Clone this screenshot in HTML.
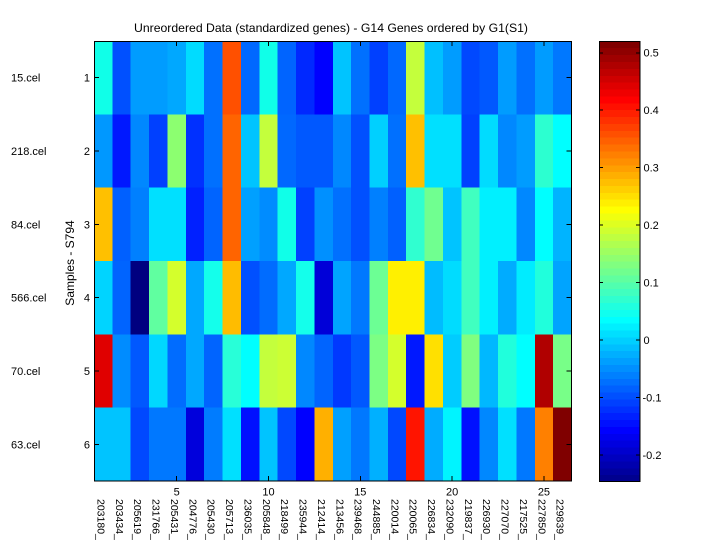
<!DOCTYPE html>
<html><head><meta charset="utf-8"><style>
html,body{margin:0;padding:0;background:#fff;}
svg{display:block;}
text{font-family:"Liberation Sans",Arial,sans-serif;fill:#000;}
</style></head><body>
<svg width="720" height="540" viewBox="0 0 720 540" xmlns="http://www.w3.org/2000/svg">
<rect width="720" height="540" fill="#fff"/>
<svg x="94" y="41" width="477.5" height="440" viewBox="0 0 26 6" preserveAspectRatio="none" shape-rendering="crispEdges">
<g>
<rect x="0" y="0" width="1.02" height="1.01" fill="#10FFE8"/><rect x="1" y="0" width="1.02" height="1.01" fill="#0050FF"/><rect x="2" y="0" width="1.02" height="1.01" fill="#009CFF"/><rect x="3" y="0" width="1.02" height="1.01" fill="#009CFF"/><rect x="4" y="0" width="1.02" height="1.01" fill="#00A8FF"/><rect x="5" y="0" width="1.02" height="1.01" fill="#00DCFF"/><rect x="6" y="0" width="1.02" height="1.01" fill="#0070FF"/><rect x="7" y="0" width="1.02" height="1.01" fill="#FF5000"/><rect x="8" y="0" width="1.02" height="1.01" fill="#0068FF"/><rect x="9" y="0" width="1.02" height="1.01" fill="#10FFE8"/><rect x="10" y="0" width="1.02" height="1.01" fill="#0064FF"/><rect x="11" y="0" width="1.02" height="1.01" fill="#0028FF"/><rect x="12" y="0" width="1.02" height="1.01" fill="#0000FF"/><rect x="13" y="0" width="1.02" height="1.01" fill="#00C4FF"/><rect x="14" y="0" width="1.02" height="1.01" fill="#0070FF"/><rect x="15" y="0" width="1.02" height="1.01" fill="#0040FF"/><rect x="16" y="0" width="1.02" height="1.01" fill="#0068FF"/><rect x="17" y="0" width="1.02" height="1.01" fill="#C4FF3C"/><rect x="18" y="0" width="1.02" height="1.01" fill="#00C0FF"/><rect x="19" y="0" width="1.02" height="1.01" fill="#009CFF"/><rect x="20" y="0" width="1.02" height="1.01" fill="#0048FF"/><rect x="21" y="0" width="1.02" height="1.01" fill="#0058FF"/><rect x="22" y="0" width="1.02" height="1.01" fill="#009CFF"/><rect x="23" y="0" width="1.02" height="1.01" fill="#0070FF"/><rect x="24" y="0" width="1.02" height="1.01" fill="#009CFF"/><rect x="25" y="0" width="1.02" height="1.01" fill="#0078FF"/>
<rect x="0" y="1" width="1.02" height="1.01" fill="#0098FF"/><rect x="1" y="1" width="1.02" height="1.01" fill="#0018FF"/><rect x="2" y="1" width="1.02" height="1.01" fill="#0088FF"/><rect x="3" y="1" width="1.02" height="1.01" fill="#0040FF"/><rect x="4" y="1" width="1.02" height="1.01" fill="#8CFF70"/><rect x="5" y="1" width="1.02" height="1.01" fill="#0030FF"/><rect x="6" y="1" width="1.02" height="1.01" fill="#0070FF"/><rect x="7" y="1" width="1.02" height="1.01" fill="#FF6400"/><rect x="8" y="1" width="1.02" height="1.01" fill="#00C4FF"/><rect x="9" y="1" width="1.02" height="1.01" fill="#C4FF3C"/><rect x="10" y="1" width="1.02" height="1.01" fill="#0068FF"/><rect x="11" y="1" width="1.02" height="1.01" fill="#0058FF"/><rect x="12" y="1" width="1.02" height="1.01" fill="#0058FF"/><rect x="13" y="1" width="1.02" height="1.01" fill="#0088FF"/><rect x="14" y="1" width="1.02" height="1.01" fill="#0050FF"/><rect x="15" y="1" width="1.02" height="1.01" fill="#00D0FF"/><rect x="16" y="1" width="1.02" height="1.01" fill="#0070FF"/><rect x="17" y="1" width="1.02" height="1.01" fill="#FFC000"/><rect x="18" y="1" width="1.02" height="1.01" fill="#00E0FF"/><rect x="19" y="1" width="1.02" height="1.01" fill="#00E0FF"/><rect x="20" y="1" width="1.02" height="1.01" fill="#0040FF"/><rect x="21" y="1" width="1.02" height="1.01" fill="#00DCFF"/><rect x="22" y="1" width="1.02" height="1.01" fill="#0088FF"/><rect x="23" y="1" width="1.02" height="1.01" fill="#009CFF"/><rect x="24" y="1" width="1.02" height="1.01" fill="#2CFFD0"/><rect x="25" y="1" width="1.02" height="1.01" fill="#00FFFF"/>
<rect x="0" y="2" width="1.02" height="1.01" fill="#FFC000"/><rect x="1" y="2" width="1.02" height="1.01" fill="#0060FF"/><rect x="2" y="2" width="1.02" height="1.01" fill="#0080FF"/><rect x="3" y="2" width="1.02" height="1.01" fill="#00E0FF"/><rect x="4" y="2" width="1.02" height="1.01" fill="#00E0FF"/><rect x="5" y="2" width="1.02" height="1.01" fill="#0020FF"/><rect x="6" y="2" width="1.02" height="1.01" fill="#0064FF"/><rect x="7" y="2" width="1.02" height="1.01" fill="#FF6400"/><rect x="8" y="2" width="1.02" height="1.01" fill="#00A0FF"/><rect x="9" y="2" width="1.02" height="1.01" fill="#008CFF"/><rect x="10" y="2" width="1.02" height="1.01" fill="#10FFE8"/><rect x="11" y="2" width="1.02" height="1.01" fill="#0040FF"/><rect x="12" y="2" width="1.02" height="1.01" fill="#0090FF"/><rect x="13" y="2" width="1.02" height="1.01" fill="#0070FF"/><rect x="14" y="2" width="1.02" height="1.01" fill="#0050FF"/><rect x="15" y="2" width="1.02" height="1.01" fill="#0080FF"/><rect x="16" y="2" width="1.02" height="1.01" fill="#0060FF"/><rect x="17" y="2" width="1.02" height="1.01" fill="#30FFD0"/><rect x="18" y="2" width="1.02" height="1.01" fill="#70FF90"/><rect x="19" y="2" width="1.02" height="1.01" fill="#00C4FF"/><rect x="20" y="2" width="1.02" height="1.01" fill="#40FFC0"/><rect x="21" y="2" width="1.02" height="1.01" fill="#00F0FF"/><rect x="22" y="2" width="1.02" height="1.01" fill="#00F0FF"/><rect x="23" y="2" width="1.02" height="1.01" fill="#0088FF"/><rect x="24" y="2" width="1.02" height="1.01" fill="#00FFFF"/><rect x="25" y="2" width="1.02" height="1.01" fill="#00B4FF"/>
<rect x="0" y="3" width="1.02" height="1.01" fill="#00D4FF"/><rect x="1" y="3" width="1.02" height="1.01" fill="#0064FF"/><rect x="2" y="3" width="1.02" height="1.01" fill="#000080"/><rect x="3" y="3" width="1.02" height="1.01" fill="#60FFA0"/><rect x="4" y="3" width="1.02" height="1.01" fill="#D4FF2C"/><rect x="5" y="3" width="1.02" height="1.01" fill="#00A8FF"/><rect x="6" y="3" width="1.02" height="1.01" fill="#14FFEB"/><rect x="7" y="3" width="1.02" height="1.01" fill="#FFBC00"/><rect x="8" y="3" width="1.02" height="1.01" fill="#0050FF"/><rect x="9" y="3" width="1.02" height="1.01" fill="#006CFF"/><rect x="10" y="3" width="1.02" height="1.01" fill="#00A8FF"/><rect x="11" y="3" width="1.02" height="1.01" fill="#14FFEB"/><rect x="12" y="3" width="1.02" height="1.01" fill="#0000D8"/><rect x="13" y="3" width="1.02" height="1.01" fill="#00A4FF"/><rect x="14" y="3" width="1.02" height="1.01" fill="#0078FF"/><rect x="15" y="3" width="1.02" height="1.01" fill="#6CFF94"/><rect x="16" y="3" width="1.02" height="1.01" fill="#FFF000"/><rect x="17" y="3" width="1.02" height="1.01" fill="#FFF000"/><rect x="18" y="3" width="1.02" height="1.01" fill="#00BCFF"/><rect x="19" y="3" width="1.02" height="1.01" fill="#00DCFF"/><rect x="20" y="3" width="1.02" height="1.01" fill="#40FFC0"/><rect x="21" y="3" width="1.02" height="1.01" fill="#00F0FF"/><rect x="22" y="3" width="1.02" height="1.01" fill="#00ACFF"/><rect x="23" y="3" width="1.02" height="1.01" fill="#00ECFF"/><rect x="24" y="3" width="1.02" height="1.01" fill="#20FFDC"/><rect x="25" y="3" width="1.02" height="1.01" fill="#00A4FF"/>
<rect x="0" y="4" width="1.02" height="1.01" fill="#E00000"/><rect x="1" y="4" width="1.02" height="1.01" fill="#008CFF"/><rect x="2" y="4" width="1.02" height="1.01" fill="#0058FF"/><rect x="3" y="4" width="1.02" height="1.01" fill="#00D8FF"/><rect x="4" y="4" width="1.02" height="1.01" fill="#006CFF"/><rect x="5" y="4" width="1.02" height="1.01" fill="#00A8FF"/><rect x="6" y="4" width="1.02" height="1.01" fill="#0064FF"/><rect x="7" y="4" width="1.02" height="1.01" fill="#28FFD8"/><rect x="8" y="4" width="1.02" height="1.01" fill="#00FFFF"/><rect x="9" y="4" width="1.02" height="1.01" fill="#C4FF3C"/><rect x="10" y="4" width="1.02" height="1.01" fill="#CCFF34"/><rect x="11" y="4" width="1.02" height="1.01" fill="#0088FF"/><rect x="12" y="4" width="1.02" height="1.01" fill="#0064FF"/><rect x="13" y="4" width="1.02" height="1.01" fill="#0038FF"/><rect x="14" y="4" width="1.02" height="1.01" fill="#0058FF"/><rect x="15" y="4" width="1.02" height="1.01" fill="#7CFF84"/><rect x="16" y="4" width="1.02" height="1.01" fill="#D4FF2C"/><rect x="17" y="4" width="1.02" height="1.01" fill="#0018FF"/><rect x="18" y="4" width="1.02" height="1.01" fill="#FFE000"/><rect x="19" y="4" width="1.02" height="1.01" fill="#00CCFF"/><rect x="20" y="4" width="1.02" height="1.01" fill="#80FF80"/><rect x="21" y="4" width="1.02" height="1.01" fill="#00B8FF"/><rect x="22" y="4" width="1.02" height="1.01" fill="#20FFDC"/><rect x="23" y="4" width="1.02" height="1.01" fill="#00FFFF"/><rect x="24" y="4" width="1.02" height="1.01" fill="#B00000"/><rect x="25" y="4" width="1.02" height="1.01" fill="#78FF88"/>
<rect x="0" y="5" width="1.02" height="1" fill="#00C4FF"/><rect x="1" y="5" width="1.02" height="1" fill="#00C4FF"/><rect x="2" y="5" width="1.02" height="1" fill="#0048FF"/><rect x="3" y="5" width="1.02" height="1" fill="#0078FF"/><rect x="4" y="5" width="1.02" height="1" fill="#0078FF"/><rect x="5" y="5" width="1.02" height="1" fill="#0000DC"/><rect x="6" y="5" width="1.02" height="1" fill="#007CFF"/><rect x="7" y="5" width="1.02" height="1" fill="#00E0FF"/><rect x="8" y="5" width="1.02" height="1" fill="#0010FF"/><rect x="9" y="5" width="1.02" height="1" fill="#00C4FF"/><rect x="10" y="5" width="1.02" height="1" fill="#0048FF"/><rect x="11" y="5" width="1.02" height="1" fill="#0000FF"/><rect x="12" y="5" width="1.02" height="1" fill="#FFB000"/><rect x="13" y="5" width="1.02" height="1" fill="#00A0FF"/><rect x="14" y="5" width="1.02" height="1" fill="#0078FF"/><rect x="15" y="5" width="1.02" height="1" fill="#00B0FF"/><rect x="16" y="5" width="1.02" height="1" fill="#0048FF"/><rect x="17" y="5" width="1.02" height="1" fill="#FF1400"/><rect x="18" y="5" width="1.02" height="1" fill="#00ACFF"/><rect x="19" y="5" width="1.02" height="1" fill="#00F4FF"/><rect x="20" y="5" width="1.02" height="1" fill="#0010FF"/><rect x="21" y="5" width="1.02" height="1" fill="#0088FF"/><rect x="22" y="5" width="1.02" height="1" fill="#00E0FF"/><rect x="23" y="5" width="1.02" height="1" fill="#0078FF"/><rect x="24" y="5" width="1.02" height="1" fill="#FF8000"/><rect x="25" y="5" width="1" height="1" fill="#800000"/>
</g>
</svg>
<!-- main axes frame -->
<rect x="94.5" y="41.5" width="477" height="439.5" fill="none" stroke="#000" stroke-width="1"/>
<g stroke="#000" stroke-width="1" shape-rendering="crispEdges">
<!-- y ticks -->
<line x1="94" y1="77.67" x2="99" y2="77.67"/><line x1="94" y1="151" x2="99" y2="151"/><line x1="94" y1="224.33" x2="99" y2="224.33"/><line x1="94" y1="297.67" x2="99" y2="297.67"/><line x1="94" y1="371" x2="99" y2="371"/><line x1="94" y1="444.33" x2="99" y2="444.33"/>
<line x1="571.5" y1="77.67" x2="566.5" y2="77.67"/><line x1="571.5" y1="151" x2="566.5" y2="151"/><line x1="571.5" y1="224.33" x2="566.5" y2="224.33"/><line x1="571.5" y1="297.67" x2="566.5" y2="297.67"/><line x1="571.5" y1="371" x2="566.5" y2="371"/><line x1="571.5" y1="444.33" x2="566.5" y2="444.33"/>
<!-- x ticks -->
<line x1="176.64" y1="41" x2="176.64" y2="46"/><line x1="268.47" y1="41" x2="268.47" y2="46"/><line x1="360.29" y1="41" x2="360.29" y2="46"/><line x1="452.12" y1="41" x2="452.12" y2="46"/><line x1="543.94" y1="41" x2="543.94" y2="46"/>
<line x1="176.64" y1="481" x2="176.64" y2="476"/><line x1="268.47" y1="481" x2="268.47" y2="476"/><line x1="360.29" y1="481" x2="360.29" y2="476"/><line x1="452.12" y1="481" x2="452.12" y2="476"/><line x1="543.94" y1="481" x2="543.94" y2="476"/>
</g>
<!-- title -->
<text x="331" y="32" font-size="12" text-anchor="middle" textLength="394" lengthAdjust="spacingAndGlyphs">Unreordered Data (standardized genes) - G14 Genes ordered by G1(S1)</text>
<!-- row labels -->
<g font-size="11">
<text x="11" y="81.5">15.cel</text>
<text x="11" y="155">218.cel</text>
<text x="11" y="228.3">84.cel</text>
<text x="11" y="301.6">566.cel</text>
<text x="11" y="375">70.cel</text>
<text x="11" y="448.3">63.cel</text>
</g>
<g font-size="11" text-anchor="end">
<text x="90" y="81.5">1</text>
<text x="90" y="155">2</text>
<text x="90" y="228.3">3</text>
<text x="90" y="301.6">4</text>
<text x="90" y="375">5</text>
<text x="90" y="448.3">6</text>
</g>
<text transform="translate(74,263) rotate(-90)" font-size="12" text-anchor="middle">Samples - S794</text>
<!-- x tick numbers -->
<g font-size="11" text-anchor="middle">
<text x="176.64" y="495.5">5</text>
<text x="268.47" y="495.5">10</text>
<text x="360.29" y="495.5">15</text>
<text x="452.12" y="495.5">20</text>
<text x="543.94" y="495.5">25</text>
</g>
<!-- gene labels -->
<g font-size="10.5">
<text transform="translate(97.5,499) rotate(90)">203180_at</text>
<text transform="translate(115.85,499) rotate(90)">203434_at</text>
<text transform="translate(134.2,499) rotate(90)">205619_at</text>
<text transform="translate(152.6,499) rotate(90)">231766_at</text>
<text transform="translate(170.95,499) rotate(90)">205431_at</text>
<text transform="translate(189.3,499) rotate(90)">204776_at</text>
<text transform="translate(207.7,499) rotate(90)">205430_at</text>
<text transform="translate(226.05,499) rotate(90)">205713_at</text>
<text transform="translate(244.4,499) rotate(90)">236035_at</text>
<text transform="translate(262.8,499) rotate(90)">205848_at</text>
<text transform="translate(281.15,499) rotate(90)">218499_at</text>
<text transform="translate(299.5,499) rotate(90)">235944_at</text>
<text transform="translate(317.85,499) rotate(90)">212414_at</text>
<text transform="translate(336.25,499) rotate(90)">213456_at</text>
<text transform="translate(354.6,499) rotate(90)">239468_at</text>
<text transform="translate(372.95,499) rotate(90)">244885_at</text>
<text transform="translate(391.3,499) rotate(90)">220014_at</text>
<text transform="translate(409.7,499) rotate(90)">220065_at</text>
<text transform="translate(428.05,499) rotate(90)">226834_at</text>
<text transform="translate(446.4,499) rotate(90)">232090_at</text>
<text transform="translate(464.8,499) rotate(90)">219837_at</text>
<text transform="translate(483.15,499) rotate(90)">226930_at</text>
<text transform="translate(501.5,499) rotate(90)">227070_at</text>
<text transform="translate(519.9,499) rotate(90)">217525_at</text>
<text transform="translate(538.25,499) rotate(90)">227850_at</text>
<text transform="translate(556.6,499) rotate(90)">229839_at</text>
</g>
<!-- colorbar -->
<svg x="599" y="41" width="41" height="440.7" viewBox="0 0 1 64" preserveAspectRatio="none" shape-rendering="crispEdges">
<rect x="0" y="63" width="1" height="1.05" fill="#00008F"/>
<rect x="0" y="62" width="1" height="1.05" fill="#00009F"/>
<rect x="0" y="61" width="1" height="1.05" fill="#0000AF"/>
<rect x="0" y="60" width="1" height="1.05" fill="#0000BF"/>
<rect x="0" y="59" width="1" height="1.05" fill="#0000CF"/>
<rect x="0" y="58" width="1" height="1.05" fill="#0000DF"/>
<rect x="0" y="57" width="1" height="1.05" fill="#0000EF"/>
<rect x="0" y="56" width="1" height="1.05" fill="#0000FF"/>
<rect x="0" y="55" width="1" height="1.05" fill="#0010FF"/>
<rect x="0" y="54" width="1" height="1.05" fill="#0020FF"/>
<rect x="0" y="53" width="1" height="1.05" fill="#0030FF"/>
<rect x="0" y="52" width="1" height="1.05" fill="#0040FF"/>
<rect x="0" y="51" width="1" height="1.05" fill="#0050FF"/>
<rect x="0" y="50" width="1" height="1.05" fill="#0060FF"/>
<rect x="0" y="49" width="1" height="1.05" fill="#0070FF"/>
<rect x="0" y="48" width="1" height="1.05" fill="#0080FF"/>
<rect x="0" y="47" width="1" height="1.05" fill="#008FFF"/>
<rect x="0" y="46" width="1" height="1.05" fill="#009FFF"/>
<rect x="0" y="45" width="1" height="1.05" fill="#00AFFF"/>
<rect x="0" y="44" width="1" height="1.05" fill="#00BFFF"/>
<rect x="0" y="43" width="1" height="1.05" fill="#00CFFF"/>
<rect x="0" y="42" width="1" height="1.05" fill="#00DFFF"/>
<rect x="0" y="41" width="1" height="1.05" fill="#00EFFF"/>
<rect x="0" y="40" width="1" height="1.05" fill="#00FFFF"/>
<rect x="0" y="39" width="1" height="1.05" fill="#10FFEF"/>
<rect x="0" y="38" width="1" height="1.05" fill="#20FFDF"/>
<rect x="0" y="37" width="1" height="1.05" fill="#30FFCF"/>
<rect x="0" y="36" width="1" height="1.05" fill="#40FFBF"/>
<rect x="0" y="35" width="1" height="1.05" fill="#50FFAF"/>
<rect x="0" y="34" width="1" height="1.05" fill="#60FF9F"/>
<rect x="0" y="33" width="1" height="1.05" fill="#70FF8F"/>
<rect x="0" y="32" width="1" height="1.05" fill="#80FF80"/>
<rect x="0" y="31" width="1" height="1.05" fill="#8FFF70"/>
<rect x="0" y="30" width="1" height="1.05" fill="#9FFF60"/>
<rect x="0" y="29" width="1" height="1.05" fill="#AFFF50"/>
<rect x="0" y="28" width="1" height="1.05" fill="#BFFF40"/>
<rect x="0" y="27" width="1" height="1.05" fill="#CFFF30"/>
<rect x="0" y="26" width="1" height="1.05" fill="#DFFF20"/>
<rect x="0" y="25" width="1" height="1.05" fill="#EFFF10"/>
<rect x="0" y="24" width="1" height="1.05" fill="#FFFF00"/>
<rect x="0" y="23" width="1" height="1.05" fill="#FFEF00"/>
<rect x="0" y="22" width="1" height="1.05" fill="#FFDF00"/>
<rect x="0" y="21" width="1" height="1.05" fill="#FFCF00"/>
<rect x="0" y="20" width="1" height="1.05" fill="#FFBF00"/>
<rect x="0" y="19" width="1" height="1.05" fill="#FFAF00"/>
<rect x="0" y="18" width="1" height="1.05" fill="#FF9F00"/>
<rect x="0" y="17" width="1" height="1.05" fill="#FF8F00"/>
<rect x="0" y="16" width="1" height="1.05" fill="#FF8000"/>
<rect x="0" y="15" width="1" height="1.05" fill="#FF7000"/>
<rect x="0" y="14" width="1" height="1.05" fill="#FF6000"/>
<rect x="0" y="13" width="1" height="1.05" fill="#FF5000"/>
<rect x="0" y="12" width="1" height="1.05" fill="#FF4000"/>
<rect x="0" y="11" width="1" height="1.05" fill="#FF3000"/>
<rect x="0" y="10" width="1" height="1.05" fill="#FF2000"/>
<rect x="0" y="9" width="1" height="1.05" fill="#FF1000"/>
<rect x="0" y="8" width="1" height="1.05" fill="#FF0000"/>
<rect x="0" y="7" width="1" height="1.05" fill="#EF0000"/>
<rect x="0" y="6" width="1" height="1.05" fill="#DF0000"/>
<rect x="0" y="5" width="1" height="1.05" fill="#CF0000"/>
<rect x="0" y="4" width="1" height="1.05" fill="#BF0000"/>
<rect x="0" y="3" width="1" height="1.05" fill="#AF0000"/>
<rect x="0" y="2" width="1" height="1.05" fill="#9F0000"/>
<rect x="0" y="1" width="1" height="1.05" fill="#8F0000"/>
<rect x="0" y="0" width="1" height="1.05" fill="#800000"/>
</svg>
<rect x="599.5" y="41.5" width="40.5" height="440" fill="none" stroke="#000" stroke-width="1"/>
<g stroke="#000" stroke-width="1" shape-rendering="crispEdges">
<line x1="599" y1="52.75" x2="603" y2="52.75"/><line x1="640" y1="52.75" x2="636" y2="52.75"/>
<line x1="599" y1="110.2" x2="603" y2="110.2"/><line x1="640" y1="110.2" x2="636" y2="110.2"/>
<line x1="599" y1="167.65" x2="603" y2="167.65"/><line x1="640" y1="167.65" x2="636" y2="167.65"/>
<line x1="599" y1="225.1" x2="603" y2="225.1"/><line x1="640" y1="225.1" x2="636" y2="225.1"/>
<line x1="599" y1="282.55" x2="603" y2="282.55"/><line x1="640" y1="282.55" x2="636" y2="282.55"/>
<line x1="599" y1="340" x2="603" y2="340"/><line x1="640" y1="340" x2="636" y2="340"/>
<line x1="599" y1="397.45" x2="603" y2="397.45"/><line x1="640" y1="397.45" x2="636" y2="397.45"/>
<line x1="599" y1="454.9" x2="603" y2="454.9"/><line x1="640" y1="454.9" x2="636" y2="454.9"/>
</g>
<g font-size="11">
<text x="643.5" y="56.7">0.5</text>
<text x="643.5" y="114.2">0.4</text>
<text x="643.5" y="171.6">0.3</text>
<text x="643.5" y="229.1">0.2</text>
<text x="643.5" y="286.5">0.1</text>
<text x="643.5" y="344">0</text>
<text x="642.5" y="401.4">-0.1</text>
<text x="642.5" y="458.9">-0.2</text>
</g>
</svg>
</body></html>
